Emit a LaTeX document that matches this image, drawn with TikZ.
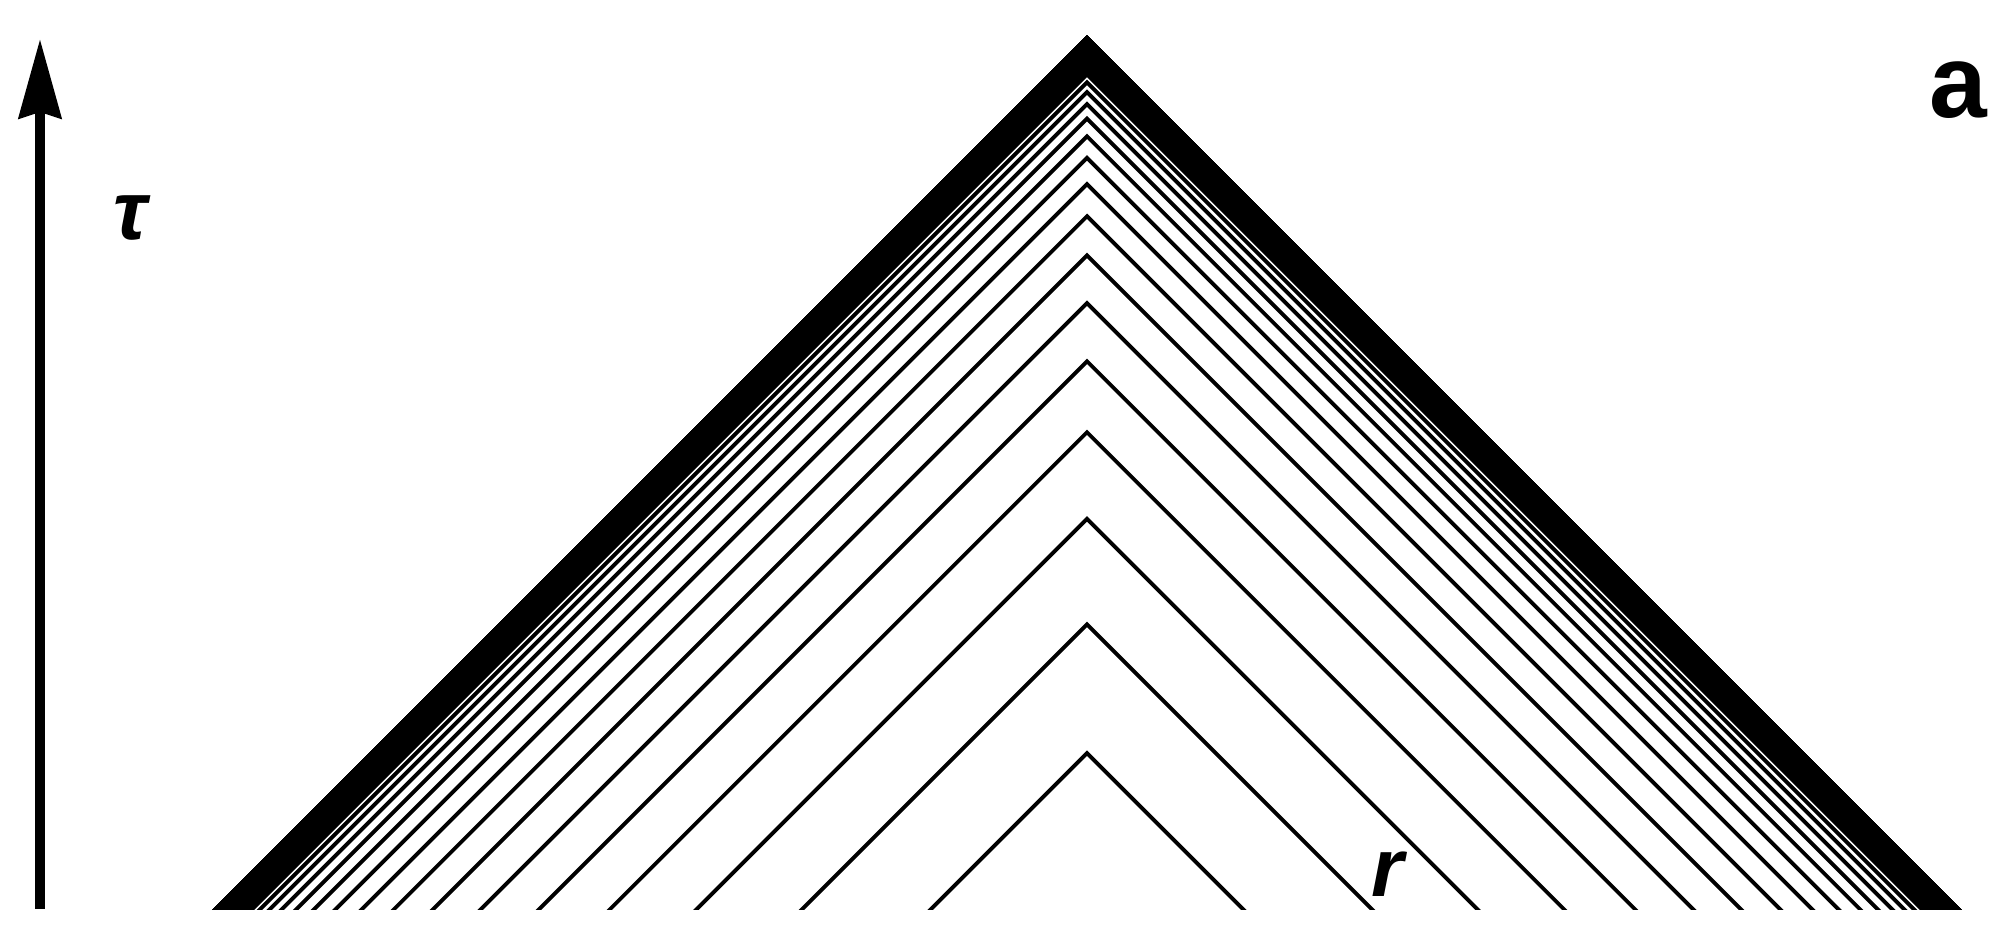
\documentclass[tikz,border=0pt]{standalone}
\usepackage{fontspec}
\setmainfont{Liberation Sans}
\usetikzlibrary{arrows.meta}
\begin{document}
\begin{tikzpicture}[scale=1]
  \useasboundingbox (0,0) rectangle (20,9.5);

  \begin{scope}
    \clip (0,0.40) rectangle (20,9.5);
    \foreach \n in {1,...,60} {
      \pgfmathsetmacro{\h}{8.72*(1-0.82^\n)}
      \draw[line width=1.1pt] (10.87-\h-0.2,0.2) -- (10.87,0.40+\h) -- (10.87+\h+0.2,0.2);
    }
    \draw[line width=0.25cm] (10.87-8.55-0.2,0.2) -- (10.87,0.40+8.55) -- (10.87+8.55+0.2,0.2);
  \end{scope}

  \coordinate (tbase) at (0.40,0.41);
  \coordinate (ttip)  at (0.40,9.11);
  \draw[line width=2.85pt, -{Stealth[length=7.9mm,width=4.2mm,inset=0.6mm]}] (tbase) -- (ttip);

  \begin{scope}[every node/.style={font=\fontsize{23.6}{28}\selectfont\bfseries\itshape}]
    \node (tau) at (1.30,7.32) {τ};
    \node (r)   at (13.88,0.76) {r};
  \end{scope}
  \node[font=\fontsize{29.5}{34}\selectfont\bfseries] (a) at (19.58,8.60) {a};

\end{tikzpicture}
\end{document}
